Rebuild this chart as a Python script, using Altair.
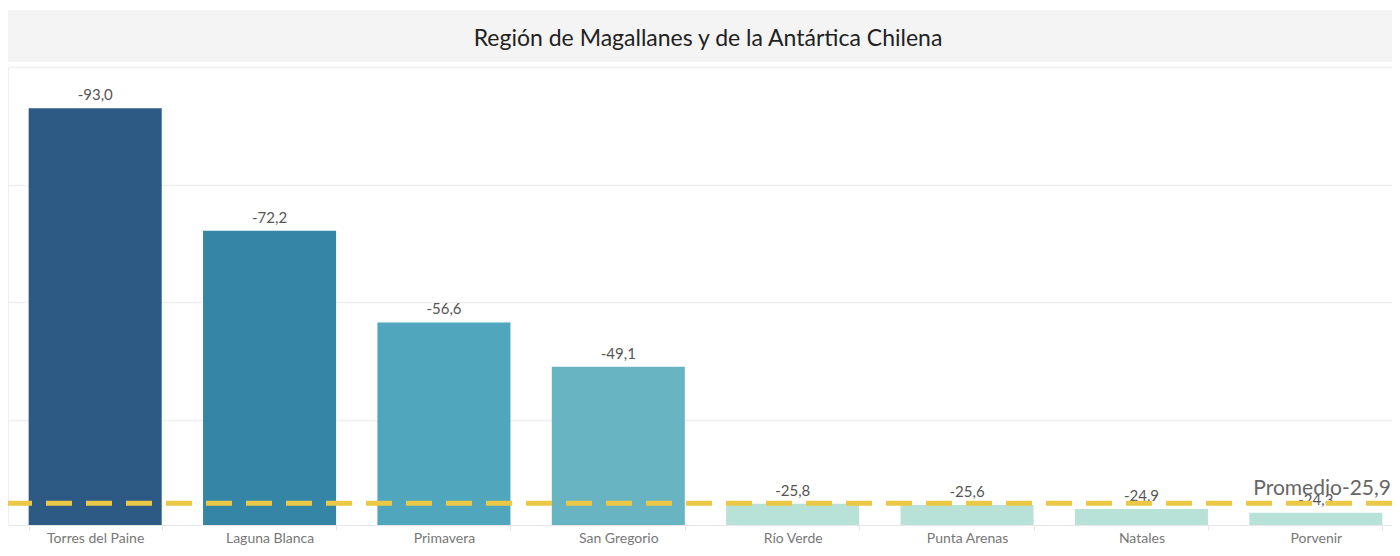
import altair as alt
import pandas as pd

comunas = ["Torres del Paine", "Laguna Blanca", "Primavera", "San Gregorio",
           "Río Verde", "Punta Arenas", "Natales", "Porvenir"]
valores = [-93.0, -72.2, -56.6, -49.1, -25.8, -25.6, -24.9, -24.3]
colores = ["#2d5985", "#3585a6", "#4fa6bd", "#69b4c3",
           "#b8e2d8", "#b8e2d8", "#b8e2d8", "#b8e2d8"]
promedio = [-25.9]
titulo = "Región de Magallanes y de la Antártica Chilena"
y_domain = [-100, -22.2]
y_grid = [-100, -80, -60, -40]

FONT = "Lato"
W = 1384        # visible plot width (page is 1400 wide with 8px margins)
X_RANGE = 1395  # band layout extends slightly past the visible edge, as in the reference
H = 458
PAD_TOP = 59
PAD_BOTTOM = 540 - PAD_TOP - H


def fmt(v):
    return f"{v:.1f}".replace(".", ",")


df = pd.DataFrame({"comuna": comunas, "valor": valores})
df["etiqueta"] = df["valor"].map(fmt)
mean_df = pd.DataFrame({"prom": promedio})
mean_df["etiqueta"] = mean_df["prom"].map(lambda v: "Promedio" + fmt(v))
title_df = pd.DataFrame({"t": [titulo]})

x_enc = alt.X(
    "comuna:N", sort=comunas, title=None,
    scale=alt.Scale(paddingInner=0.237, paddingOuter=0.1185, range=[0, X_RANGE]),
    axis=alt.Axis(tickBand="extent", labelAngle=0, labelFontSize=14,
                  labelColor="#777777", labelFont=FONT, labelPadding=1,
                  labelBaseline="top",
                  tickSize=5, tickColor="#e6e6e6", domainColor="#e6e6e6",
                  grid=False),
)
y_scale = alt.Scale(domain=y_domain, reverse=True, nice=False, zero=False)
y_enc = alt.Y(
    "valor:Q", title=None, scale=y_scale,
    axis=alt.Axis(values=y_grid, labels=False, ticks=False, domain=True,
                  domainColor="#eeeeee", grid=True, gridColor="#efefef",
                  gridWidth=1.5),
)

base = alt.Chart(df)
bars = base.mark_bar(clip=True).encode(
    x=x_enc, y=y_enc,
    color=alt.Color("comuna:N", sort=comunas,
                    scale=alt.Scale(domain=comunas, range=colores), legend=None),
)
labels = base.mark_text(baseline="alphabetic", dy=-8, fontSize=15,
                        color="#555555", font=FONT).encode(
    x=alt.X("comuna:N", sort=comunas), y=alt.Y("valor:Q"), text="etiqueta:N"
)
rule = alt.Chart(mean_df).mark_rule(color="#ebc845", strokeWidth=5,
                                    strokeDash=[26, 14]).encode(
    y=alt.Y("prom:Q")
)
prom_text = alt.Chart(mean_df).mark_text(
    align="right", baseline="alphabetic", dy=-8, fontSize=21,
    color="#666666", font=FONT).encode(
    y=alt.Y("prom:Q"), x=alt.value(W - 1), text="etiqueta:N"
)

title_bar = alt.Chart(title_df).mark_rect(color="#f4f4f4").encode(
    x=alt.value(0), x2=alt.value(W), y=alt.value(-57), y2=alt.value(-5)
)
title_text = alt.Chart(title_df).mark_text(
    fontSize=23, color="#222222", font=FONT, baseline="alphabetic"
).encode(
    text="t:N", x=alt.value(700), y=alt.value(-21)
)

chart = alt.layer(title_bar, title_text, bars, labels, rule, prom_text).properties(
    width=W, height=H,
    view=alt.ViewBackground(stroke="transparent"),
    autosize=alt.AutoSizeParams(type="none"),
    padding={"left": 0, "top": PAD_TOP, "right": 0, "bottom": PAD_BOTTOM},
).configure(font=FONT)

chart.save("out.html", embed_options={"renderer": "svg", "actions": False})
